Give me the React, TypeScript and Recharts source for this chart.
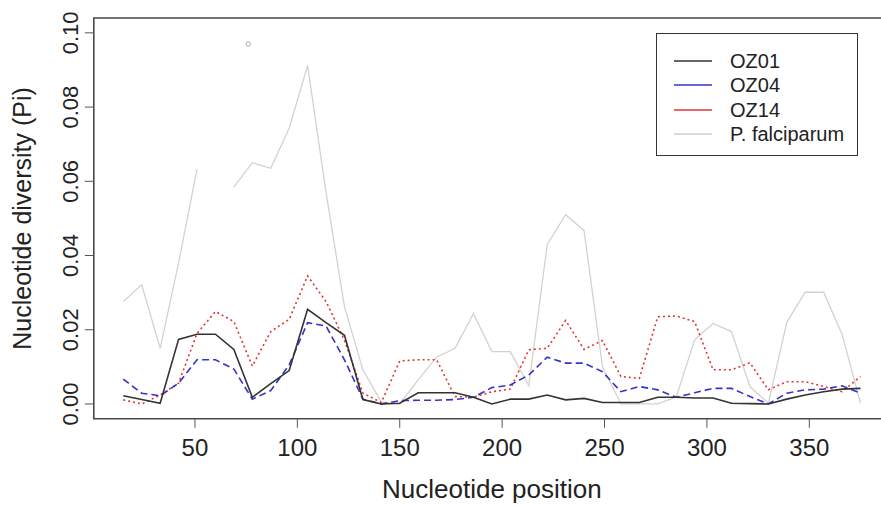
import {
  ComposedChart,
  Line,
  Scatter,
  XAxis,
  YAxis,
  ReferenceArea,
  Legend,
  Label,
} from "recharts";

const FONT = "'Liberation Sans', Arial, sans-serif";

// window midpoints along the alignment
const positions = [
  15, 24, 33, 42, 51, 60, 69, 78, 87, 96, 105, 114, 123, 132, 141, 150, 159,
  168, 177, 186, 195, 204, 213, 222, 231, 240, 249, 258, 267, 276, 285, 294,
  303, 312, 321, 330, 339, 348, 357, 366, 375,
];

const oz01 = [
  0.0022, 0.0012, 0.0002, 0.0174, 0.0188, 0.0188, 0.0147, 0.0018, 0.0055,
  0.009, 0.0255, 0.0219, 0.0185, 0.0012, 0.0, 0.0002, 0.003, 0.003, 0.003,
  0.0018, 0.0, 0.0013, 0.0013, 0.0024, 0.0011, 0.0015, 0.0004, 0.0004, 0.0004,
  0.0018, 0.0018, 0.0016, 0.0016, 0.0002, 0.0001, 0.0, 0.0013, 0.0024, 0.0033,
  0.004, 0.0042,
];

const oz04 = [
  0.0067, 0.0029, 0.0022, 0.0056, 0.0119, 0.0119, 0.0094, 0.0013, 0.0036,
  0.0105, 0.0219, 0.021, 0.0119, 0.0013, 0.0, 0.0009, 0.001, 0.001, 0.0012,
  0.0018, 0.0044, 0.0051, 0.0078, 0.0126, 0.011, 0.011, 0.0087, 0.0033, 0.0047,
  0.0038, 0.0018, 0.003, 0.0042, 0.0042, 0.002, 0.0, 0.0029, 0.0038, 0.004,
  0.0049, 0.0029,
];

const oz14 = [
  0.0011, 0.0, 0.0024, 0.0056, 0.019, 0.0249, 0.0222, 0.0102, 0.0195, 0.0228,
  0.0345, 0.0276, 0.0172, 0.0029, 0.0004, 0.0116, 0.0119, 0.0119, 0.002,
  0.0018, 0.0033, 0.004, 0.0146, 0.015, 0.0225, 0.0147, 0.0171, 0.0074, 0.0069,
  0.0235, 0.0237, 0.0222, 0.0092, 0.0092, 0.0111, 0.0038, 0.006, 0.006, 0.0047,
  0.0033, 0.0074,
];

const falciparum = [
  0.0276, 0.0321, 0.015, 0.038, 0.0633, null, 0.0584, 0.065, 0.0635, 0.0743,
  0.0912, 0.057, 0.0262, 0.0092, 0.0005, 0.0, 0.0065, 0.0126, 0.015, 0.0243,
  0.0141, 0.0141, 0.0049, 0.0429, 0.051, 0.0467, 0.01, 0.0, 0.0, 0.0, 0.0019,
  0.0173, 0.0217, 0.0195, 0.0047, 0.0002, 0.022, 0.0301, 0.0301, 0.0188, 0.0002,
];

// lone P. falciparum point drawn as a circle
const falciparumPoint = [{ pos: 76, pf: 0.097 }];

const xTicks = [50, 100, 150, 200, 250, 300, 350];
const yTicks = [0, 0.02, 0.04, 0.06, 0.08, 0.1];

const data = positions.map((pos, i) => ({
  pos,
  oz01: oz01[i],
  oz04: oz04[i],
  oz14: oz14[i],
  pf: falciparum[i],
}));

const legendItems = [
  { name: "OZ01", color: "#333333" },
  { name: "OZ04", color: "#3434c8" },
  { name: "OZ14", color: "#e03434" },
  { name: "P. falciparum", color: "#cfcfcf" },
];

function YTick({ x, y, payload }: any) {
  return (
    <text
      x={x}
      y={y}
      transform={`rotate(-90, ${x}, ${y})`}
      textAnchor="middle"
      fontSize={22}
      fill="#222"
      fontFamily={FONT}
    >
      {Number(payload.value).toFixed(2)}
    </text>
  );
}

function LegendBox() {
  return (
    <div
      style={{
        width: 202,
        height: 123,
        boxSizing: "border-box",
        border: "1.5px solid #333",
        background: "#fff",
        paddingTop: 15,
        fontFamily: FONT,
        fontSize: 20,
        color: "#222",
      }}
    >
      {legendItems.map((it) => (
        <div
          key={it.name}
          style={{ display: "flex", alignItems: "center", height: 24.3 }}
        >
          <svg width={38} height={6} style={{ marginLeft: 17, display: "block" }}>
            <line x1={0} y1={3} x2={38} y2={3} stroke={it.color} strokeWidth={1.6} />
          </svg>
          <span style={{ marginLeft: 18, lineHeight: "24px" }}>{it.name}</span>
        </div>
      ))}
    </div>
  );
}

export default function App() {
  return (
    <div
      style={{
        position: "absolute",
        left: 0,
        top: 0,
        width: 881,
        height: 507,
        overflow: "hidden",
        background: "#fff",
      }}
    >
      <ComposedChart
        width={900}
        height={507}
        data={data}
        margin={{ top: 18, right: 10, bottom: 0, left: 0 }}
      >
        <XAxis
          dataKey="pos"
          type="number"
          domain={[0.6, 389.4]}
          ticks={xTicks}
          allowDataOverflow
          height={88.2}
          axisLine={false}
          tickSize={9}
          tickMargin={11}
          tickLine={{ stroke: "#555" }}
          tick={{ fontSize: 24, fill: "#222", fontFamily: FONT }}
        >
          <Label
            content={({ viewBox }: any) => (
              <text
                x={viewBox.x + viewBox.width / 2}
                y={viewBox.y + 79}
                textAnchor="middle"
                fontSize={26}
                fill="#222"
                fontFamily={FONT}
              >
                Nucleotide position
              </text>
            )}
          />
        </XAxis>
        <YAxis
          type="number"
          domain={[-0.004, 0.104]}
          ticks={yTicks}
          allowDataOverflow
          width={93.8}
          axisLine={false}
          tickSize={9}
          tickMargin={7}
          tickLine={{ stroke: "#555" }}
          tick={<YTick />}
        >
          <Label
            content={({ viewBox }: any) => {
              const cx = 31;
              const cy = viewBox.y + viewBox.height / 2;
              return (
                <text
                  x={cx}
                  y={cy}
                  transform={`rotate(-90, ${cx}, ${cy})`}
                  textAnchor="middle"
                  fontSize={25}
                  fill="#222"
                  fontFamily={FONT}
                >
                  Nucleotide diversity (Pi)
                </text>
              );
            }}
          />
        </YAxis>
        <ReferenceArea
          x1={0.6}
          x2={389.4}
          y1={-0.004}
          y2={0.104}
          fill="none"
          stroke="#4a4a4a"
          strokeWidth={1.6}
        />
        <Line
          type="linear"
          dataKey="pf"
          stroke="#d2d2d2"
          strokeWidth={1.3}
          dot={false}
          isAnimationActive={false}
        />
        <Line
          type="linear"
          dataKey="oz14"
          stroke="#e03434"
          strokeWidth={1.6}
          strokeDasharray="2 3"
          dot={false}
          isAnimationActive={false}
        />
        <Line
          type="linear"
          dataKey="oz04"
          stroke="#3434c8"
          strokeWidth={1.6}
          strokeDasharray="7 4"
          dot={false}
          isAnimationActive={false}
        />
        <Line
          type="linear"
          dataKey="oz01"
          stroke="#333333"
          strokeWidth={1.6}
          dot={false}
          isAnimationActive={false}
        />
        <Scatter
          data={falciparumPoint}
          dataKey="pf"
          isAnimationActive={false}
          shape={(p: any) => (
            <circle
              cx={p.cx}
              cy={p.cy}
              r={2.2}
              fill="none"
              stroke="#a8a8b8"
              strokeWidth={1}
            />
          )}
        />
        <Legend
          layout="horizontal"
          verticalAlign="middle"
          align="center"
          wrapperStyle={{ left: 656, top: 33, width: "auto", height: "auto" }}
          content={() => <LegendBox />}
        />
      </ComposedChart>
    </div>
  );
}
